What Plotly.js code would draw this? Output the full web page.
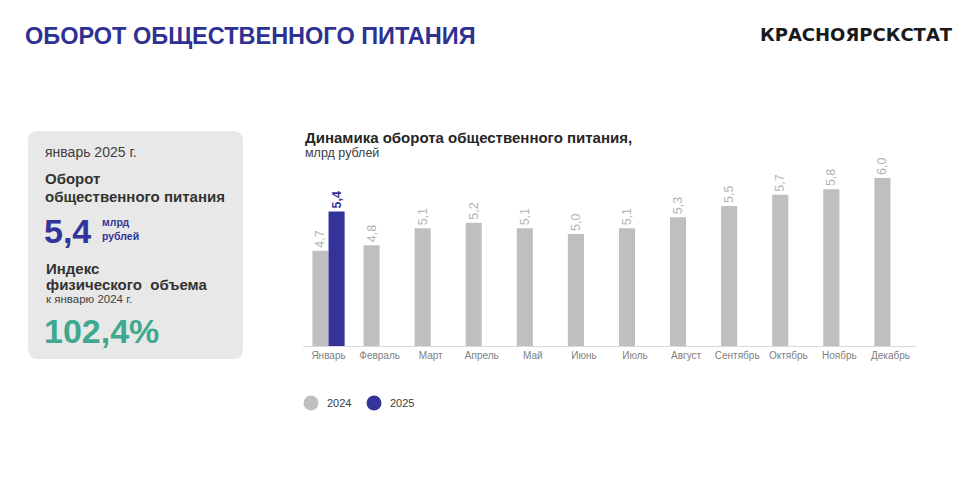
<!DOCTYPE html>
<html><head><meta charset="utf-8">
<script src="https://cdn.plot.ly/plotly-3.0.1.min.js"></script>
<style>html,body{margin:0;padding:0;background:#fff}#chart{width:960px;height:492px}</style>
</head><body><div id="chart"></div>
<script>
const months = ['Январь','Февраль','Март','Апрель','Май','Июнь','Июль','Август','Сентябрь','Октябрь','Ноябрь','Декабрь'];
const values2024 = [4.7,4.8,5.1,5.2,5.1,5.0,5.1,5.3,5.5,5.7,5.8,6.0];
const values2025 = [5.4,null,null,null,null,null,null,null,null,null,null,null];
const seriesNames = ['2024','2025'];

const W=960,H=492,L=303,R=44,T=160,B=146;
const PW=W-L-R, PH=H-T-B;
const px=p=>(p-L)/PW, py=p=>(H-B-p)/PH;
const GRAY='#bfbfbf', BLUE='#333399', TEAL='#3fa98f';
const COLORS=[GRAY,BLUE];
const FONT='Liberation Sans, Arial, sans-serif';

function rrect(x0,y0,x1,y1,r){
  const rx=r/PW, ry=r/PH;
  const a=px(x0),b=px(x1),top=py(y0),bot=py(y1);
  return `M${a+rx},${top} L${b-rx},${top} Q${b},${top} ${b},${top-ry} L${b},${bot+ry} Q${b},${bot} ${b-rx},${bot} L${a+rx},${bot} Q${a},${bot} ${a},${bot+ry} L${a},${top-ry} Q${a},${top} ${a+rx},${top} Z`;
}
function ann(text,x,y,size,color,bold,extra){
  return Object.assign({text:text,xref:'paper',yref:'paper',x:px(x),y:py(y),xanchor:'left',yanchor:'middle',showarrow:false,
    font:{family:FONT,size:size,color:color,weight:bold?'bold':'normal'}},extra||{});
}

const traces=[
 {type:'bar',name:seriesNames[0],x:months,y:values2024,marker:{color:GRAY},showlegend:false,
  texttemplate:'%{y:.1f}',textposition:'outside',textangle:-90,constraintext:'none',cliponaxis:false,
  textfont:{family:FONT,size:12.5,color:'#b3b3b3'},hoverinfo:'skip'},
 {type:'bar',name:seriesNames[1],x:months,y:values2025,marker:{color:BLUE},showlegend:false,
  texttemplate:'%{y:.1f}',textposition:'outside',textangle:-90,constraintext:'none',cliponaxis:false,
  textfont:{family:FONT,size:12.5,color:BLUE,weight:'bold'},hoverinfo:'skip'}
];

// manual legend (circle swatches + labels)
const legendX=[311,374], legendY=403;
const legendShapes=seriesNames.map((n,i)=>({type:'circle',xref:'paper',yref:'paper',xsizemode:'pixel',ysizemode:'pixel',
  xanchor:px(legendX[i]),yanchor:py(legendY),x0:-7.5,x1:7.5,y0:-7.5,y1:7.5,fillcolor:COLORS[i],line:{width:0}}));
const legendAnns=seriesNames.map((n,i)=>ann(n,legendX[i]+14,legendY,11,'#404040',false));

const layout={
 width:W,height:H,margin:{l:L,r:R,t:T,b:B,pad:0},
 paper_bgcolor:'#fff',plot_bgcolor:'#fff',separators:', ',
 barmode:'group',bargap:0.37,bargroupgap:0,
 font:{family:FONT},
 xaxis:{type:'category',showgrid:false,zeroline:false,showline:true,linecolor:'#d9d9d9',linewidth:1,ticks:'',
   tickfont:{family:FONT,size:10,color:'#808080'},fixedrange:true},
 yaxis:{range:[3,6.32],visible:false,fixedrange:true},
 showlegend:false,
 shapes:[{type:'path',xref:'paper',yref:'paper',path:rrect(28,131,243,359,10),fillcolor:'#e8e8e8',line:{width:0},layer:'below'}].concat(legendShapes),
 annotations:[
  ann('ОБОРОТ ОБЩЕСТВЕННОГО ПИТАНИЯ',23,36,23.5,'#2e3192',true),
  ann('КРАСНОЯРСКСТАТ',955,35,18,'#1a1a1a',true,{xanchor:'right',font:{family:'DejaVu Sans, sans-serif',size:18,color:'#1a1a1a',weight:'bold'}}),
  ann('январь 2025 г.',43,152,14,'#404040',false),
  ann('Оборот',43,178,15,'#333333',true),
  ann('общественного питания',43,196,15,'#333333',true),
  ann('5,4',42,231,34,BLUE,true),
  ann('млрд',100,222,10.5,BLUE,true),
  ann('рублей',100,236,10.5,BLUE,true),
  ann('Индекс',44,268,15,'#333333',true),
  ann('физического  объема',44,284,15,'#333333',true),
  ann('к январю 2024 г.',44,299,11.5,'#404040',false),
  ann('102,4%',42,331,34,TEAL,true),
  ann('Динамика оборота общественного питания,',303,137,15,'#262626',true),
  ann('млрд рублей',303,153,12.5,'#404040',false)
 ].concat(legendAnns)
};
Plotly.newPlot('chart',traces,layout,{staticPlot:true,displayModeBar:false});
</script></body></html>
